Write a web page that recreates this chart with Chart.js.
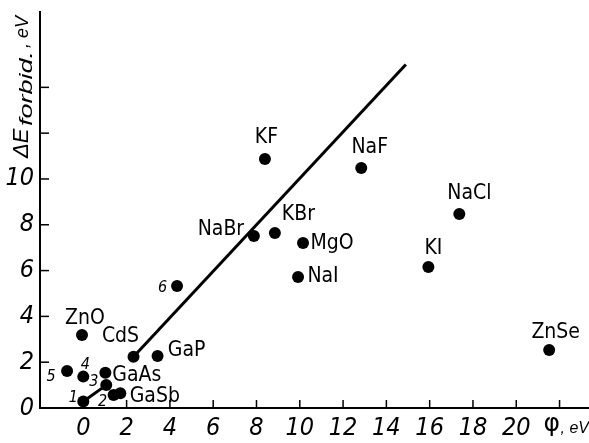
<!DOCTYPE html>
<html><head><meta charset="utf-8">
<script src="https://cdn.jsdelivr.net/npm/chart.js@4/dist/chart.umd.min.js"></script>
<style>html,body{margin:0;padding:0;background:#fff}#wrap{width:589px;height:443px;position:relative}</style>
</head><body><div id="wrap"><canvas id="c"></canvas></div>
<script>
// ---- data ----
const materials = ['1','2','3','4','5','GaAs','GaSb','CdS','GaP','ZnO','6','KF','NaBr','KBr','MgO','NaI','NaF','NaCl','KI','ZnSe'];
const phiValues = [0,1.4,1.02,0,-0.75,1.06,1.71,2.32,3.43,-0.06,4.33,8.39,7.88,8.85,10.15,9.92,12.84,17.37,15.94,21.52];
const gapValues = [0.28,0.57,1.54,1.37,1.62,1.0,0.64,2.24,2.27,3.19,5.33,10.87,7.51,7.64,7.2,5.72,10.48,8.47,6.16,2.53];
const fitLowPhi = [0, 1.06];
const fitLowGap = [0.28, 1.0];
const fitPhi = [2.32, 14.9];
const fitGap = [2.24, 15.0];
const xTickValues = [0,2,4,6,8,10,12,14,16,18,20,22];
const xTickLabels = ['0','2','4','6','8','10','12','14','16','18','20',''];
const yTickValues = [0,2,4,6,8,10,12,14];
const yTickLabels = ['0','2','4','6','8','10','',''];

// ---- label placement (pixel offsets from the dot) ----
const labelOffsets = {
  '1':[-10,-3.5],'2':[-11,7],'3':[-11.5,9],'4':[2,-12],'5':[-16,6],
  'GaAs':[30.5,-10],'GaSb':[34.5,3],'CdS':[-13,-20],'GaP':[29,-5],'ZnO':[3,-16.5],
  '6':[-14.5,1.5],'KF':[1.5,-21],'NaBr':[-33,-6.5],'KBr':[23.5,-18],'MgO':[29,0.5],
  'NaI':[25,-0.5],'NaF':[8.5,-20.5],'NaCl':[10,-20.5],'KI':[5,-18.5],'ZnSe':[6.5,-18]
};
const NARROW = "'Liberation Sans Narrow','DejaVu Sans Condensed','Liberation Sans',sans-serif";

const pts = phiValues.map((x,i)=>({x, y: gapValues[i]}));
const lowLine = fitLowPhi.map((x,i)=>({x, y: fitLowGap[i]}));
const mainLine = fitPhi.map((x,i)=>({x, y: fitGap[i]}));

const extras = {
  id:'extras',
  afterDatasetsDraw(chart){
    const ctx = chart.ctx, xs = chart.scales.x, ys = chart.scales.y;
    ctx.save();
    ctx.fillStyle = '#000'; ctx.strokeStyle = '#000';
    // inward tick marks
    ctx.lineWidth = 1.5;
    xs.ticks.forEach(t=>{ if(t.value===0) return; const px = xs.getPixelForValue(t.value);
      ctx.beginPath(); ctx.moveTo(px, ys.bottom); ctx.lineTo(px, ys.bottom-8); ctx.stroke(); });
    ys.ticks.forEach(t=>{ if(t.value===0) return; const py = ys.getPixelForValue(t.value);
      ctx.beginPath(); ctx.moveTo(xs.left, py); ctx.lineTo(xs.left+9, py); ctx.stroke(); });
    // point labels
    const meta = chart.getDatasetMeta(0);
    ctx.textAlign = 'center'; ctx.textBaseline = 'middle';
    meta.data.forEach((el,i)=>{
      const name = materials[i]; const off = labelOffsets[name] || [0,-18];
      const isNum = /^[0-9]+$/.test(name);
      ctx.font = isNum ? "italic 16px " + NARROW : "21px " + NARROW;
      ctx.fillText(name, el.x + off[0], el.y + off[1]);
    });
    // x axis title at last tick
    const xp = xs.getPixelForValue(22);
    ctx.textAlign = 'left'; ctx.textBaseline = 'alphabetic';
    ctx.font = "25px 'DejaVu Sans',sans-serif";
    ctx.fillText('φ', xp - 16, 431);
    ctx.font = "italic 16px 'Liberation Sans',sans-serif";
    ctx.fillText(', eV', xp + 1, 433);
    // y axis title (rotated)
    ctx.rotate(-Math.PI/2);
    ctx.font = "italic 22px 'Liberation Sans',sans-serif";
    ctx.fillText('ΔE', -158, 28);
    ctx.font = "italic 19px 'Liberation Sans',sans-serif";
    const w = ctx.measureText('forbid.').width;
    ctx.save(); ctx.translate(-126, 32); ctx.scale(75/w, 1); ctx.fillText('forbid.', 0, 0); ctx.restore();
    ctx.font = "italic 18px 'Liberation Sans',sans-serif";
    ctx.fillText(', eV', -48, 28);
    ctx.restore();
  }
};

new Chart(document.getElementById('c'), {
  type: 'scatter',
  data: { datasets: [
    { data: pts, backgroundColor:'#000', borderColor:'#000', pointRadius:6, pointHoverRadius:6, pointBorderWidth:0 },
    { data: lowLine, showLine:true, borderColor:'#000', borderWidth:3, pointRadius:0, fill:false },
    { data: mainLine, showLine:true, borderColor:'#000', borderWidth:3, pointRadius:0, fill:false }
  ]},
  options: {
    responsive:true, maintainAspectRatio:false, animation:false,
    layout:{ autoPadding:false, padding:{ top:12, left:0, right:0, bottom:0 } },
    plugins:{ legend:{display:false}, tooltip:{enabled:false} },
    scales:{
      x:{ type:'linear', position:'bottom', min:-2, max:23.36,
        border:{display:true, color:'#000', width:2},
        grid:{display:true, drawOnChartArea:false, drawTicks:false},
        afterBuildTicks(s){ s.ticks = xTickValues.map(v=>({value:v})); },
        afterFit(s){ s.height = 35; s.paddingLeft=0; s.paddingRight=0; s.paddingTop=0; s.paddingBottom=0; },
        ticks:{ color:'#000', padding:5, maxRotation:0, autoSkip:false,
          font:{family:NARROW, size:25, style:'italic'},
          callback:(v)=>{ const i = xTickValues.indexOf(v); return i>=0 ? xTickLabels[i] : ''; } }
      },
      y:{ type:'linear', position:'left', min:0, max:17.29,
        border:{display:true, color:'#000', width:2},
        grid:{display:true, drawOnChartArea:false, drawTicks:false},
        afterBuildTicks(s){ s.ticks = yTickValues.map(v=>({value:v})); },
        afterFit(s){ s.width = 40; s.paddingLeft=0; s.paddingRight=0; s.paddingTop=0; s.paddingBottom=0; },
        ticks:{ color:'#000', padding:6, autoSkip:false,
          font:{family:NARROW, size:25, style:'italic'},
          callback:(v)=>{ const i = yTickValues.indexOf(v); return i>=0 ? yTickLabels[i] : ''; } }
      }
    }
  },
  plugins:[extras]
});
</script></body></html>
